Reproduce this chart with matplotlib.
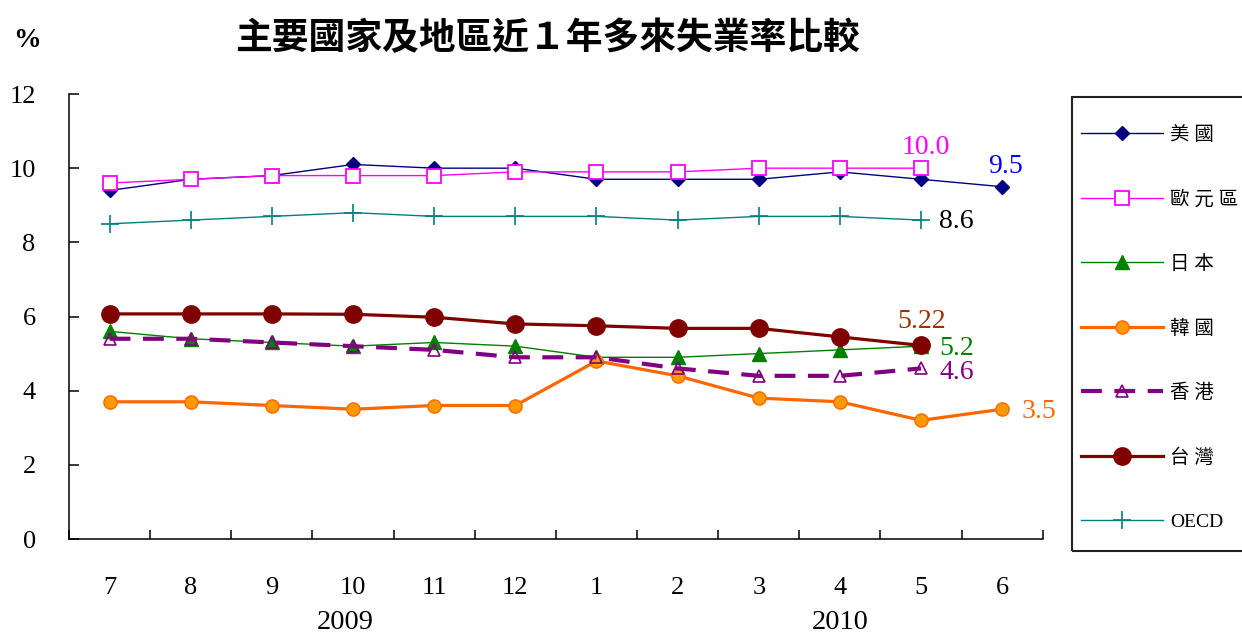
import matplotlib
matplotlib.use("Agg")
import matplotlib.pyplot as plt
from matplotlib.patches import Rectangle
import numpy as np

plt.rcParams['font.family'] = ['Liberation Serif', 'Noto Sans CJK TC']

# months from 2009/7 to 2010/6
months = ['7', '8', '9', '10', '11', '12', '1', '2', '3', '4', '5', '6']
years = ['2009', '2010']

usa = [9.4, 9.7, 9.8, 10.1, 10.0, 10.0, 9.7, 9.7, 9.7, 9.9, 9.7, 9.5]
euro = [9.6, 9.7, 9.8, 9.8, 9.8, 9.9, 9.9, 9.9, 10.0, 10.0, 10.0]
japan = [5.6, 5.4, 5.3, 5.2, 5.3, 5.2, 4.9, 4.9, 5.0, 5.1, 5.2]
korea = [3.7, 3.7, 3.6, 3.5, 3.6, 3.6, 4.8, 4.4, 3.8, 3.7, 3.2, 3.5]
hk = [5.4, 5.4, 5.3, 5.2, 5.1, 4.9, 4.9, 4.6, 4.4, 4.4, 4.6]
taiwan = [6.07, 6.07, 6.07, 6.06, 5.98, 5.80, 5.75, 5.68, 5.68, 5.45, 5.22]
oecd = [8.5, 8.6, 8.7, 8.8, 8.7, 8.7, 8.7, 8.6, 8.7, 8.7, 8.6]

fig = plt.figure(figsize=(12.42, 6.36), dpi=100)
ax = fig.add_axes([0.0556, 0.1525, 0.784, 0.6997])

def xs(vals):
    return np.arange(len(vals))

l_us, = ax.plot(xs(usa), usa, color='#000080', lw=1.0, marker='D', ms=7,
                mfc='#000080', mec='#000080', label='美 國')
l_eu, = ax.plot(xs(euro), euro, color='#FF00FF', lw=1.0, marker='s', ms=9.5,
                mfc='white', mec='#FF00FF', mew=1.3, label='歐 元 區')
l_jp, = ax.plot(xs(japan), japan, color='#008000', lw=1.0, marker='^', ms=10,
                mfc='#008000', mec='#008000', label='日 本')
l_kr, = ax.plot(xs(korea), korea, color='#FF6600', lw=2.3, marker='o', ms=9.5,
                mfc='#FF9900', mec='#FF6600', mew=1.0, label='韓 國')
l_hk, = ax.plot(xs(hk), hk, color='#800080', lw=3.0, ls=(0, (5, 3)), marker='^', ms=9,
                mfc='none', mec='#800080', mew=1.2, label='香 港')
l_tw, = ax.plot(xs(taiwan), taiwan, color='#800000', lw=2.3, marker='o', ms=12.5,
                mfc='#800000', mec='#800000', label='台 灣')
l_oe, = ax.plot(xs(oecd), oecd, color='#008080', lw=1.0, marker='+', ms=13,
                mew=1.2, label='OECD')

# end labels
lab = dict(fontsize=20, textcoords='offset points')
ax.annotate('10.0', (len(euro) - 1, euro[-1]), xytext=(3.6, 15), color='#FF00FF',
            ha='center', va='center', **lab)
ax.annotate('9.5', (len(usa) - 1, usa[-1]), xytext=(2.5, 14.5), color='#0000FF',
            ha='center', va='center', **lab)
ax.annotate('8.6', (len(oecd) - 1, oecd[-1]), xytext=(13, -1), color='black',
            ha='left', va='center', **lab)
ax.annotate('5.22', (len(taiwan) - 1, taiwan[-1]), xytext=(0.7, 17), color='#993300',
            ha='center', va='center', **lab)
ax.annotate('5.2', (len(japan) - 1, japan[-1]), xytext=(13, -1.5), color='#008000',
            ha='left', va='center', **lab)
ax.annotate('4.6', (len(hk) - 1, hk[-1]), xytext=(13, -3), color='#800080',
            ha='left', va='center', **lab)
ax.annotate('3.5', (len(korea) - 1, korea[-1]), xytext=(13.7, -1.8), color='#FF6600',
            ha='left', va='center', **lab)

ax.set_xlim(-0.5, len(months) - 0.5)
ax.set_ylim(0, 12)
ax.set_yticks(np.arange(0, 13, 2))
ax.set_xticks(np.arange(-0.5, len(months), 1))
ax.set_xticklabels([])
ax.set_xticks(np.arange(len(months)), minor=True)
ax.set_xticklabels(months, minor=True, fontsize=19)
ax.tick_params(axis='x', which='major', direction='in', length=6.5, width=1.1)
ax.tick_params(axis='x', which='minor', length=0, pad=27)
ax.tick_params(axis='y', direction='in', length=7, width=1.1, pad=24, labelsize=19)
for s in ['top', 'right']:
    ax.spines[s].set_visible(False)
for s in ['left', 'bottom']:
    ax.spines[s].set_linewidth(1.1)

# year labels under month labels
ax.text(2.9, -0.188, years[0], transform=ax.get_xaxis_transform(), ha='center',
        va='center', fontsize=20.5)
ax.text(9.0, -0.188, years[1], transform=ax.get_xaxis_transform(), ha='center',
        va='center', fontsize=20.5)

fig.text(0.4408, 0.940, '主要國家及地區近１年多來失業率比較', ha='center', va='center',
         fontsize=26.5, fontweight='bold', family=['Noto Sans CJK TC', 'DejaVu Sans'])
fig.text(0.022, 0.937, '%', ha='center', va='center', fontsize=20, fontweight='bold')

# legend box (right edge runs off the picture)
fig.patches.append(Rectangle((0.8631, 0.1336), 0.2, 0.7138, transform=fig.transFigure,
                             fill=False, edgecolor='#222222', lw=1.5, clip_on=False))
fig.legend(handles=[l_us, l_eu, l_jp, l_kr, l_hk, l_tw, l_oe], loc='upper left',
           bbox_to_anchor=(0.8704, 0.8015), frameon=False, numpoints=1,
           fontsize=14, handlelength=4.2, handletextpad=0.4, labelspacing=2.38,
           borderpad=0, borderaxespad=0)

fig.savefig('out.png', dpi=100)
